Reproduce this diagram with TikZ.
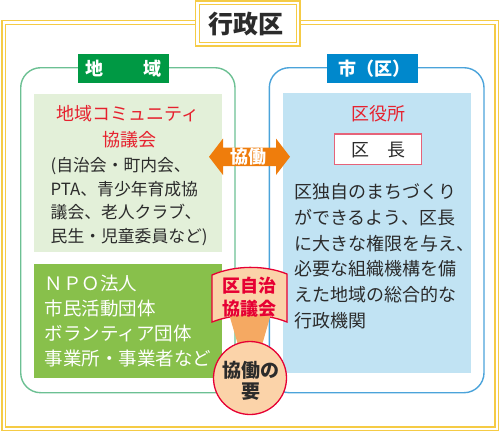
\documentclass[tikz,border=0pt]{standalone}
\usepackage{fontspec}
\newfontfamily\jp{Noto Sans CJK JP}
\definecolor{frameY}{HTML}{F5CB45}
\definecolor{gBorder}{HTML}{6CC093}
\definecolor{gLabel}{HTML}{009944}
\definecolor{lGreen}{HTML}{E3F0D9}
\definecolor{npoGreen}{HTML}{88C04B}
\definecolor{bBorder}{HTML}{4BA3DA}
\definecolor{bLabel}{HTML}{0088CC}
\definecolor{lBlue}{HTML}{C1E3F3}
\definecolor{redT}{HTML}{E6212E}
\definecolor{pinkB}{HTML}{E66379}
\definecolor{arrowO}{HTML}{EF7D0C}
\definecolor{peach}{HTML}{FBD3A9}
\definecolor{bannerR}{HTML}{E60033}
\definecolor{trapO}{HTML}{F5A962}
\definecolor{darkT}{HTML}{2B2B2B}
\begin{document}
\begin{tikzpicture}[x=1pt,y=-1pt,
  txt/.style={inner sep=0pt,anchor=base},
  txtw/.style={inner sep=0pt,anchor=base west},
  fr/.style={draw=frameY,line width=1.3pt},
  j17/.style={font=\jp\fontsize{16.8}{18}\selectfont},
  j18/.style={font=\jp\fontsize{18}{20}\selectfont},
  j185/.style={font=\jp\fontsize{18.5}{20}\selectfont},
  j18b/.style={font=\jp\bfseries\fontsize{18}{20}\selectfont},
  j19b/.style={font=\jp\bfseries\fontsize{19}{20}\selectfont},
  j25b/.style={font=\jp\bfseries\fontsize{25}{26}\selectfont}]
\useasboundingbox (0,0) rectangle (502,432);

% outer double frame
\draw[fr] (2,20.7) rectangle (498.5,430.5);
\draw[fr] (5.5,24.3) rectangle (495,427);

% title box
\fill[white] (195.5,1) rectangle (300,46);
\draw[fr] (195.5,1) rectangle (300,46);
\draw[fr] (199.5,4.5) rectangle (296.5,42.5);
\node[txt,j25b,text=darkT] (title) at (246,33.5) {行政区};

% two rounded regions
\draw[draw=gBorder,line width=1.4pt,rounded corners=20pt] (20.7,67.7) rectangle (235,392.7);
\draw[draw=bBorder,line width=1.4pt,rounded corners=20pt] (269.3,67.7) rectangle (484,392.7);

% labels
\node[fill=gLabel,inner sep=0pt,minimum width=90.7pt,minimum height=28.4pt] (glab) at (123.7,68.5) {};
\node[txt,j18b,text=white] (glabt) at (123.7,75.2) {地\hspace{40pt}域};
\node[fill=bLabel,inner sep=0pt,minimum width=90.7pt,minimum height=28.4pt] (blab) at (372.3,68.5) {};
\node[txt,j18b,text=white] (blabt) at (374,75.2) {市（区）};

% inner boxes
\fill[lGreen] (34,94.3) rectangle (221.7,251.7);
\fill[npoGreen] (34,264) rectangle (221.7,377.7);
\fill[lBlue] (282.7,93.3) rectangle (470.7,373.3);

% left upper texts
\node[txt,j18,text=redT] (comm1) at (128.3,120.1) {地域コミュニティ};
\node[txt,j18,text=redT] (comm2) at (129,146.8) {協議会};
\node[txtw,j17,text=darkT] (l1) at (50.5,171.5) {(自治会・町内会、};
\node[txtw,j17,text=darkT] (l2) at (50.5,195.1) {PTA、青少年育成協};
\node[txtw,j17,text=darkT] (l3) at (50.5,218.7) {議会、老人クラブ、};
\node[txtw,j17,text=darkT] (l4) at (50.5,242.3) {民生・児童委員など)};

% NPO texts
\node[txtw,j185,text=white] (n1) at (44.5,290.3) {ＮＰＯ法人};
\node[txtw,j185,text=white] (n2) at (44.5,315.3) {市民活動団体};
\node[txtw,j185,text=white] (n3) at (44.5,340.3) {ボランティア団体};
\node[txtw,j185,text=white] (n4) at (44.5,365.3) {事業所・事業者など};

% right texts
\node[txt,j18,text=redT] (kuyaku) at (378.3,120.1) {区役所};
\draw[draw=pinkB,fill=white,line width=1.3pt] (334.3,134) rectangle (421.7,164.3);
\node[txt,j18,text=darkT] (kucho) at (378.3,156) {区　長};
\node[txtw,j18,text=darkT] (r1) at (294,198.5) {区独自のまちづくり};
\node[txtw,j18,text=darkT] (r2) at (294,224.3) {ができるよう、区長};
\node[txtw,j18,text=darkT] (r3) at (294,250.1) {に大きな権限を与え、};
\node[txtw,j18,text=darkT] (r4) at (294,275.9) {必要な組織機構を備};
\node[txtw,j18,text=darkT] (r5) at (294,301.7) {えた地域の総合的な};
\node[txtw,j18,text=darkT] (r6) at (294,327.5) {行政機関};

% double arrow
\fill[arrowO] (209,156.8) -- (223,138.5) -- (223,147.6) -- (276,147.6) -- (276,138.5)
  -- (290,156.8) -- (276,175) -- (276,166) -- (223,166) -- (223,175) -- cycle;
\node[txt,j18b,text=white] (kyodo) at (248.5,163.8) {協働};

% banner
\draw[draw=bannerR,fill=peach,line width=1.3pt]
  (212,275) .. controls (235,265) and (265,265) .. (287,274)
  -- (287,322) .. controls (265,313) and (235,313) .. (212,322) -- cycle;
\begin{scope}
  \clip (212,321) .. controls (235,312) and (265,312) .. (287,321) -- (287,360) -- (212,360) -- cycle;
  \fill[trapO] (225,300) -- (275,300) -- (260,352) -- (240,352) -- cycle;
\end{scope}
\node[txt,j18b,text=bannerR] (ban1) at (249.5,292.8) {区自治};
\node[txt,j18b,text=bannerR] (ban2) at (249.5,315) {協議会};

% circle
\node[circle,draw=bannerR,fill=peach,line width=1.3pt,minimum size=73pt,inner sep=0pt] (kaname) at (250,378) {};
\node[txt,j19b,text=darkT] (kan1) at (251,377.2) {協働の};
\node[txt,j19b,text=darkT] (kan2) at (251,398.9) {要};
\end{tikzpicture}
\end{document}
